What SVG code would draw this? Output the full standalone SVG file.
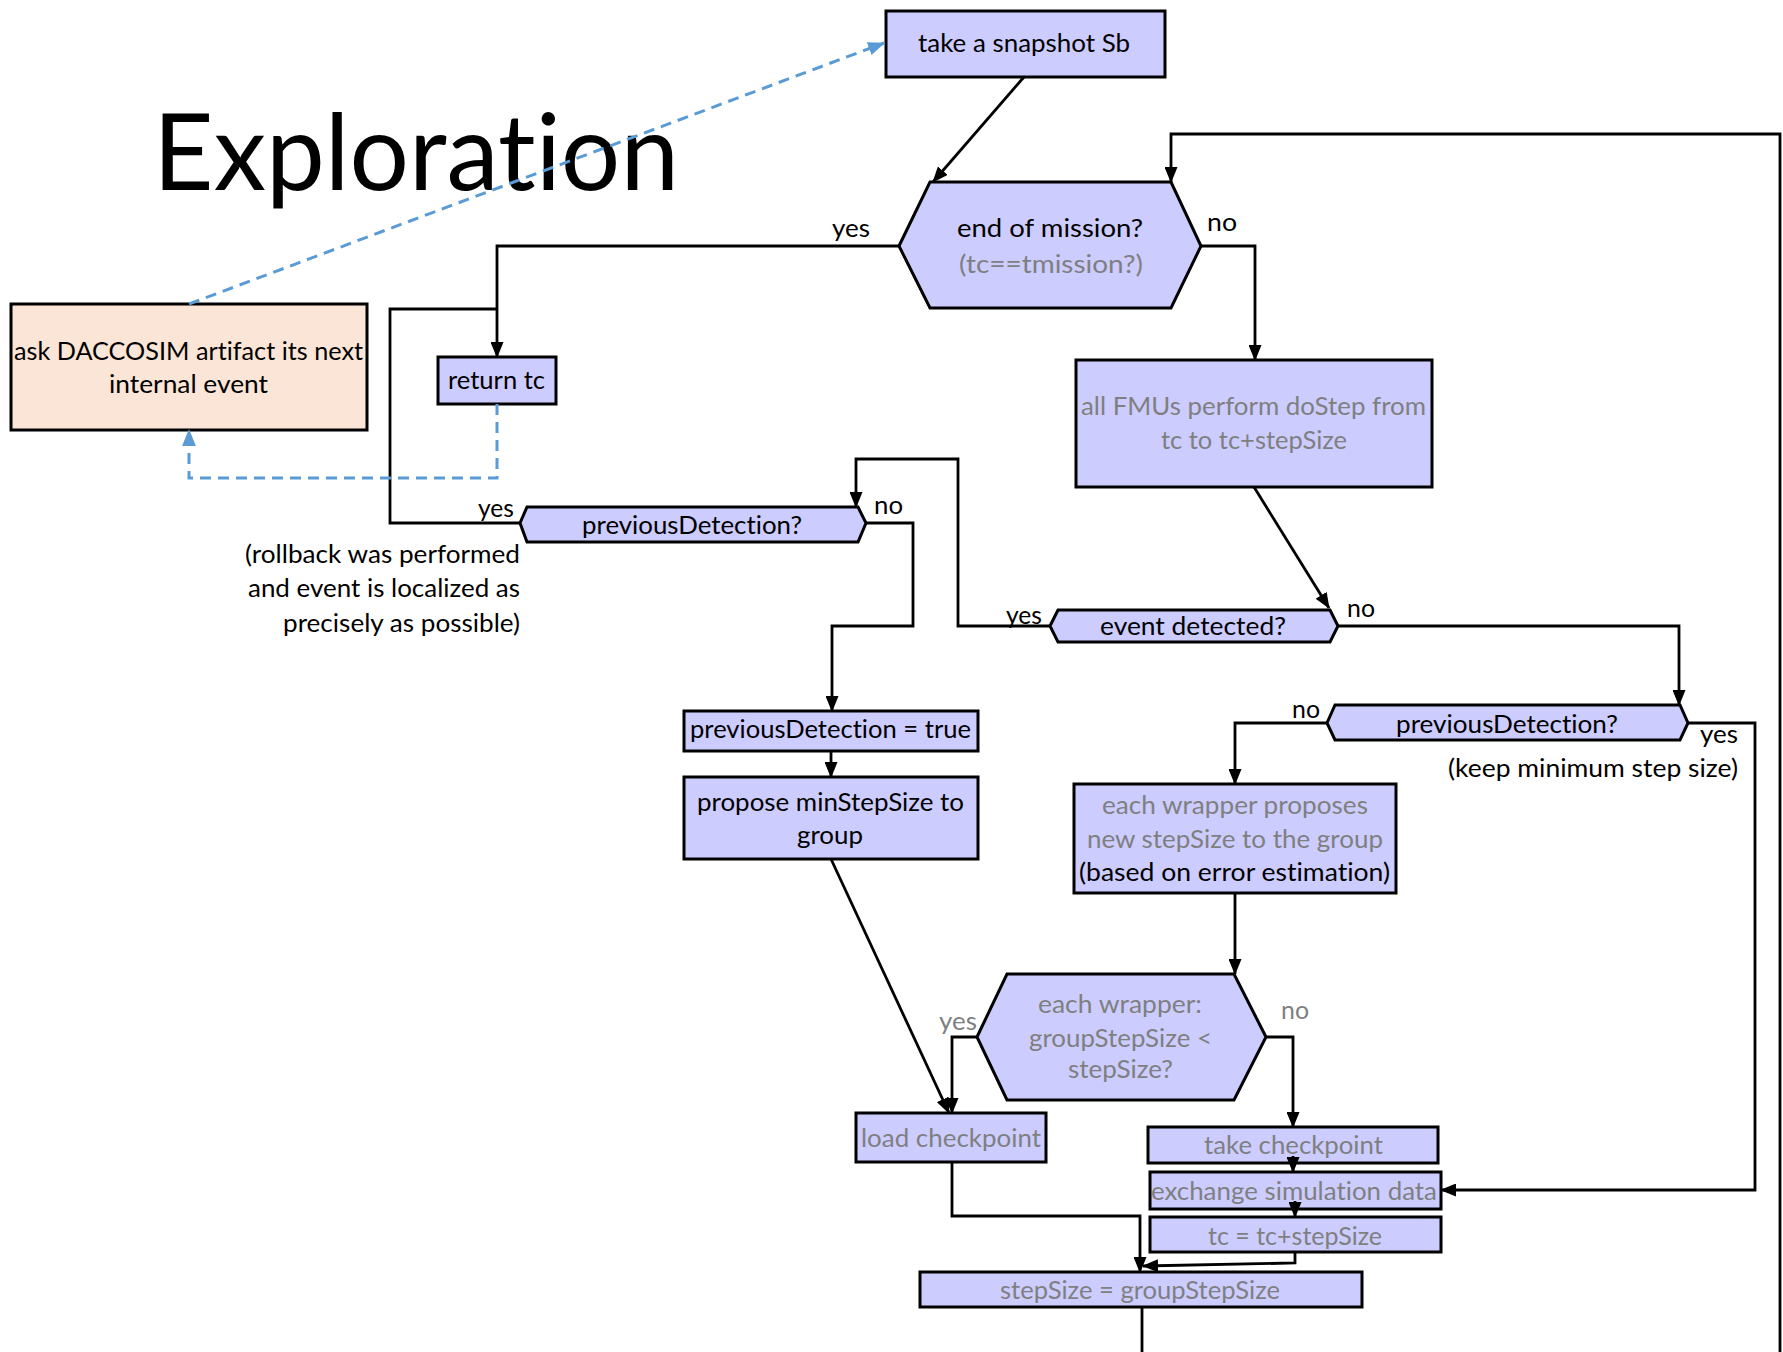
<svg xmlns="http://www.w3.org/2000/svg" width="1783" height="1352" viewBox="0 0 1783 1352">
<style>
text{font-family:Lato,"Open Sans","Liberation Sans",sans-serif;font-size:25.5px;fill:#000;font-variant-ligatures:none;font-feature-settings:"liga" 0}
.g{fill:#7f7f7f}
.box{fill:#ccccff;stroke:#000;stroke-width:3}
.ask{fill:#fbe5d6;stroke:#000;stroke-width:3}
.ln{fill:none;stroke:#000;stroke-width:2.8}
.dash{fill:none;stroke:#5b9bd5;stroke-width:3;stroke-dasharray:11 7}
.title{font-size:106px}
</style>
<defs>
<marker id="ar" viewBox="0 0 16 13" refX="15" refY="6.5" markerWidth="16" markerHeight="13" markerUnits="userSpaceOnUse" orient="auto"><path d="M0,0 L16,6.5 L0,13 z" fill="#000"/></marker>
<marker id="arb" viewBox="0 0 16 13" refX="15" refY="6.5" markerWidth="17" markerHeight="14" markerUnits="userSpaceOnUse" orient="auto"><path d="M0,0 L16,6.5 L0,13 z" fill="#5b9bd5"/></marker>
</defs>
<rect width="1783" height="1352" fill="#fff"/>
<g id="title"><text class="title" x="153" y="190" textLength="526" lengthAdjust="spacingAndGlyphs">Exploration</text></g>

<g id="snapshot"><rect class="box" x="886" y="11" width="279" height="66"/><text x="918" y="52" textLength="212" lengthAdjust="spacingAndGlyphs">take a snapshot Sb</text></g>
<g id="endMission"><polygon class="box" points="899,246 930,182 1171,182 1201,246 1171,308 930,308"/><text x="957" y="237" textLength="186" lengthAdjust="spacingAndGlyphs">end of mission?</text><text class="g" x="959" y="273" textLength="184" lengthAdjust="spacingAndGlyphs">(tc==tmission?)</text></g>
<g id="returnTc"><rect class="box" x="438" y="357" width="118" height="47"/><text x="448" y="389" textLength="97" lengthAdjust="spacingAndGlyphs">return tc</text></g>
<g id="ask"><rect class="ask" x="11" y="304" width="356" height="126"/><text x="14" y="360" textLength="349" lengthAdjust="spacingAndGlyphs">ask DACCOSIM artifact its next</text><text x="109" y="393" textLength="159" lengthAdjust="spacingAndGlyphs">internal event</text></g>
<g id="doStep"><rect class="box" x="1076" y="360" width="356" height="127"/><text class="g" x="1081" y="415" textLength="345" lengthAdjust="spacingAndGlyphs">all FMUs perform doStep from</text><text class="g" x="1161" y="449" textLength="186" lengthAdjust="spacingAndGlyphs">tc to tc+stepSize</text></g>
<g id="prevDet1"><polygon class="box" points="520,523 527,507 858,507 866,523 858,542 527,542"/><text x="582" y="534" textLength="220" lengthAdjust="spacingAndGlyphs">previousDetection?</text></g>
<g id="note1"><text x="245" y="563" textLength="275" lengthAdjust="spacingAndGlyphs">(rollback was performed</text><text x="248" y="597" textLength="272" lengthAdjust="spacingAndGlyphs">and event is localized as</text><text x="283" y="632" textLength="237" lengthAdjust="spacingAndGlyphs">precisely as possible)</text></g>
<g id="eventDetected"><polygon class="box" points="1050,626 1058,610 1330,610 1338,626 1330,642 1058,642"/><text x="1100" y="635" textLength="186" lengthAdjust="spacingAndGlyphs">event detected?</text></g>
<g id="prevDetTrue"><rect class="box" x="684" y="711" width="294" height="40"/><text x="690" y="738" textLength="281" lengthAdjust="spacingAndGlyphs">previousDetection = true</text></g>
<g id="propose"><rect class="box" x="684" y="777" width="294" height="82"/><text x="697" y="811" textLength="267" lengthAdjust="spacingAndGlyphs">propose minStepSize to</text><text x="797" y="844" textLength="66" lengthAdjust="spacingAndGlyphs">group</text></g>
<g id="prevDet2"><polygon class="box" points="1327,723 1335,705 1680,705 1688,723 1680,740 1335,740"/><text x="1396" y="733" textLength="222" lengthAdjust="spacingAndGlyphs">previousDetection?</text></g>
<g id="note2"><text x="1448" y="777" textLength="290" lengthAdjust="spacingAndGlyphs">(keep minimum step size)</text></g>
<g id="proposeNew"><rect class="box" x="1074" y="784" width="322" height="109"/><text class="g" x="1102" y="814" textLength="266" lengthAdjust="spacingAndGlyphs">each wrapper proposes</text><text class="g" x="1087" y="848" textLength="296" lengthAdjust="spacingAndGlyphs">new stepSize to the group</text><text x="1079" y="881" textLength="311" lengthAdjust="spacingAndGlyphs">(based on error estimation)</text></g>
<g id="wrapperCheck"><polygon class="box" points="977,1037 1007,974 1234,974 1266,1037 1234,1100 1007,1100"/><text class="g" x="1038" y="1013" textLength="164" lengthAdjust="spacingAndGlyphs">each wrapper:</text><text class="g" x="1029" y="1047" textLength="183" lengthAdjust="spacingAndGlyphs">groupStepSize &lt;</text><text class="g" x="1068" y="1078" textLength="105" lengthAdjust="spacingAndGlyphs">stepSize?</text></g>
<g id="loadCheckpoint"><rect class="box" x="856" y="1113" width="190" height="49"/><text class="g" x="861" y="1147" textLength="180" lengthAdjust="spacingAndGlyphs">load checkpoint</text></g>
<g id="takeCheckpoint"><rect class="box" x="1148" y="1127" width="290" height="36"/><text class="g" x="1204" y="1154" textLength="179" lengthAdjust="spacingAndGlyphs">take checkpoint</text></g>
<g id="exchange"><rect class="box" x="1150" y="1172" width="291" height="37"/><text class="g" x="1151" y="1200" textLength="286" lengthAdjust="spacingAndGlyphs">exchange simulation data</text></g>
<g id="tcUpdate"><rect class="box" x="1150" y="1217" width="291" height="35"/><text class="g" x="1208" y="1245" textLength="174" lengthAdjust="spacingAndGlyphs">tc = tc+stepSize</text></g>
<g id="stepSizeSet"><rect class="box" x="920" y="1272" width="442" height="35"/><text class="g" x="1000" y="1299" textLength="280" lengthAdjust="spacingAndGlyphs">stepSize = groupStepSize</text></g>

<g id="connectors">
<path class="ln" d="M1024,77 L933,182" marker-end="url(#ar)"/>
<path class="ln" d="M1780,1352 L1780,134 L1171,134 L1171,182" marker-end="url(#ar)"/>
<path class="ln" d="M899,246 L497,246 L497,357" marker-end="url(#ar)"/>
<path class="ln" d="M1201,246 L1255,246 L1255,360" marker-end="url(#ar)"/>
<path class="ln" d="M1254,487 L1329,608" marker-end="url(#ar)"/>
<path class="ln" d="M1050,626 L958,626 L958,459 L856,459 L856,507" marker-end="url(#ar)"/>
<path class="ln" d="M520,523 L390,523 L390,309 L497,309"/>
<path class="ln" d="M866,523 L913,523 L913,626 L832,626 L832,711" marker-end="url(#ar)"/>
<path class="ln" d="M831,751 L831,777" marker-end="url(#ar)"/>
<path class="ln" d="M831,859 L949,1113" marker-end="url(#ar)"/>
<path class="ln" d="M1338,626 L1679,626 L1679,705" marker-end="url(#ar)"/>
<path class="ln" d="M1327,723 L1235,723 L1235,784" marker-end="url(#ar)"/>
<path class="ln" d="M1688,723 L1755,723 L1755,1190 L1441,1190" marker-end="url(#ar)"/>
<path class="ln" d="M1235,893 L1235,974" marker-end="url(#ar)"/>
<path class="ln" d="M977,1037 L952,1037 L952,1113" marker-end="url(#ar)"/>
<path class="ln" d="M1266,1037 L1293,1037 L1293,1127" marker-end="url(#ar)"/>
<path class="ln" d="M1293,1156 L1293,1172" marker-end="url(#ar)"/>
<path class="ln" d="M1295,1201 L1295,1217" marker-end="url(#ar)"/>
<path class="ln" d="M1295,1252 L1295,1263 L1143,1266" marker-end="url(#ar)"/>
<path class="ln" d="M952,1162 L952,1216 L1140,1216 L1140,1272" marker-end="url(#ar)"/>
<path class="ln" d="M1142,1307 L1142,1352"/>
<path class="dash" d="M189,304 L884,43" marker-end="url(#arb)"/>
<path class="dash" d="M497,404 L497,478 L189,478 L189,430" marker-end="url(#arb)"/>
</g>

<g id="labels">
<text x="832" y="237" textLength="38" lengthAdjust="spacingAndGlyphs">yes</text>
<text x="1207" y="231" textLength="30" lengthAdjust="spacingAndGlyphs">no</text>
<text x="478" y="517" textLength="36" lengthAdjust="spacingAndGlyphs">yes</text>
<text x="874" y="514" textLength="29" lengthAdjust="spacingAndGlyphs">no</text>
<text x="1006" y="624" textLength="36" lengthAdjust="spacingAndGlyphs">yes</text>
<text x="1347" y="617" textLength="28" lengthAdjust="spacingAndGlyphs">no</text>
<text x="1292" y="718" textLength="28" lengthAdjust="spacingAndGlyphs">no</text>
<text x="1700" y="743" textLength="38" lengthAdjust="spacingAndGlyphs">yes</text>
<text class="g" x="939" y="1030" textLength="38" lengthAdjust="spacingAndGlyphs">yes</text>
<text class="g" x="1281" y="1019" textLength="28" lengthAdjust="spacingAndGlyphs">no</text>
</g>
</svg>
